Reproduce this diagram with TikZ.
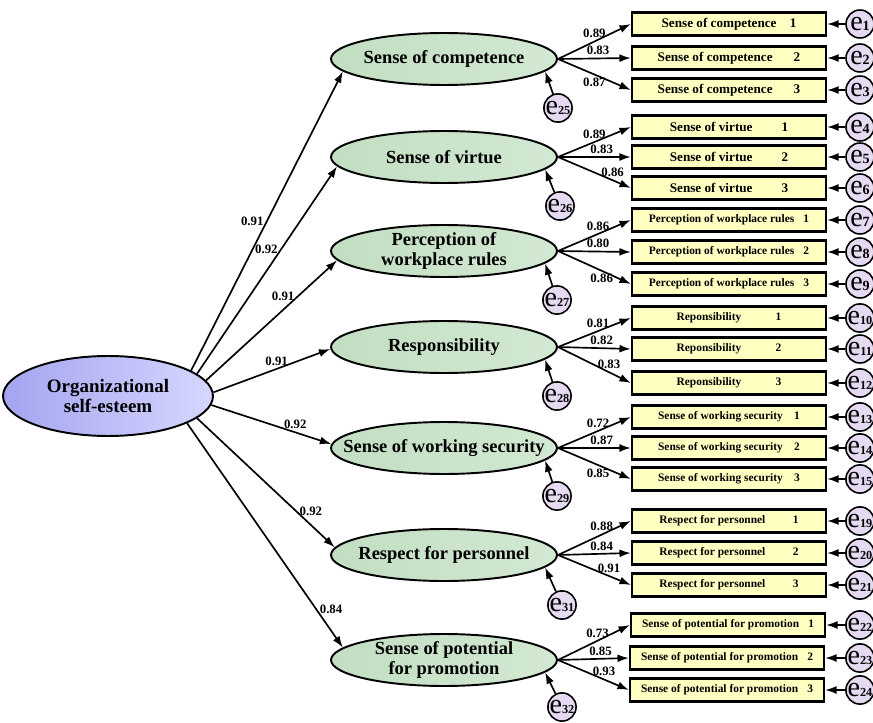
\documentclass[tikz,border=0pt]{standalone}
\usepackage{fontspec}
\setmainfont{Liberation Serif}
\usepackage{xcolor}
\usetikzlibrary{shapes.geometric, arrows.meta, positioning}

\definecolor{mainL}{HTML}{A4A4F0}
\definecolor{mainR}{HTML}{D6D6FF}
\definecolor{latL}{HTML}{C2DEC2}
\definecolor{latR}{HTML}{D2E8D2}
\definecolor{itemfill}{HTML}{FFFFC2}
\definecolor{errfill}{HTML}{E6DAF3}

\begin{document}
\begin{tikzpicture}[x=0.02cm, y=-0.02cm,
            mainvar/.style={ellipse, draw, line width=1.1pt, left color=mainL, right color=mainR, minimum width=4.2cm, minimum height=1.6cm, align=center, font=\fontsize{10.8}{11.5}\selectfont\bfseries},
            latent/.style={ellipse, draw, line width=1.1pt, left color=latL, right color=latR, minimum width=4.52cm, minimum height=1.04cm, inner xsep=-22pt, inner ysep=0pt, align=center, font=\fontsize{10.5}{11.5}\selectfont\bfseries},
            indicator/.style={rectangle, draw, line width=1.3pt, fill=itemfill, minimum width=3.88cm, minimum height=0.46cm, inner sep=0pt, font=\fontsize{6.5}{7}\selectfont\bfseries},
            err/.style={circle, draw, line width=0.9pt, fill=errfill, minimum size=0.56cm, inner sep=0pt, font=\fontsize{16}{16}\selectfont},
            load/.style={-{Latex[length=6.5pt, width=4.5pt]}, line width=0.95pt},
            weight/.style={font=\fontsize{7.3}{8}\selectfont\bfseries, inner sep=1.5pt}
        ]

        \useasboundingbox (0,0) rectangle (873,723);

        % Latent variables
        \node[mainvar] (ose) at (108,396) {Organizational\\self-esteem};
        \node[latent] (comp) at (444,59) {Sense of competence};
        \node[latent] (virt) at (444,157) {Sense of virtue};
        \node[latent, inner ysep=-4pt] (rule) at (444,251) {Perception of\\workplace rules};
        \node[latent] (resp) at (444,347) {Responsibility};
        \node[latent] (secu) at (444,448) {Sense of working security};
        \node[latent] (pers) at (444,555) {Respect for personnel};
        \node[latent, inner ysep=-4pt] (prom) at (444,660) {Sense of potential\\for promotion};

        % Indicators
        \node[indicator, font=\fontsize{7.5}{8}\selectfont\bfseries] (i1) at (729,24) {Sense of competence\hspace{1em}1};
        \node[indicator, font=\fontsize{7.5}{8}\selectfont\bfseries] (i2) at (729,58) {Sense of competence\hspace{1.6em}2};
        \node[indicator, font=\fontsize{7.5}{8}\selectfont\bfseries] (i3) at (729,90) {Sense of competence\hspace{1.6em}3};
        \node[indicator, font=\fontsize{7.5}{8}\selectfont\bfseries] (i4) at (729,127) {Sense of virtue\hspace{2.2em}1};
        \node[indicator, font=\fontsize{7.5}{8}\selectfont\bfseries] (i5) at (729,157) {Sense of virtue\hspace{2.2em}2};
        \node[indicator, font=\fontsize{7.5}{8}\selectfont\bfseries] (i6) at (729,188) {Sense of virtue\hspace{2.2em}3};
        \node[indicator] (i7) at (729,220) {Perception of workplace rules\hspace{0.8em}1};
        \node[indicator] (i8) at (729,252) {Perception of workplace rules\hspace{0.8em}2};
        \node[indicator] (i9) at (729,284) {Perception of workplace rules\hspace{0.8em}3};
        \node[indicator] (i10) at (729,318) {Reponsibility\hspace{3em}1};
        \node[indicator] (i11) at (729,349) {Reponsibility\hspace{3em}2};
        \node[indicator] (i12) at (729,383) {Reponsibility\hspace{3em}3};
        \node[indicator] (i13) at (729,417) {Sense of working security\hspace{1em}1};
        \node[indicator] (i14) at (729,448) {Sense of working security\hspace{1em}2};
        \node[indicator] (i15) at (729,479) {Sense of working security\hspace{1em}3};
        \node[indicator] (i19) at (729,521) {Respect for personnel\hspace{2.4em}1};
        \node[indicator] (i20) at (729,553) {Respect for personnel\hspace{2.4em}2};
        \node[indicator] (i21) at (729,585) {Respect for personnel\hspace{2.4em}3};
        \node[indicator] (i22) at (728,625) {Sense of potential for promotion\hspace{0.8em}1};
        \node[indicator] (i23) at (727,658) {Sense of potential for promotion\hspace{0.8em}2};
        \node[indicator] (i24) at (727,690) {Sense of potential for promotion\hspace{0.8em}3};

        % Error terms of the indicators
        \node[err] (e1) at (860,24) {e{\footnotesize\bfseries 1}};
        \node[err] (e2) at (860,58) {e{\footnotesize\bfseries 2}};
        \node[err] (e3) at (860,90) {e{\footnotesize\bfseries 3}};
        \node[err] (e4) at (860,127) {e{\footnotesize\bfseries 4}};
        \node[err] (e5) at (860,157) {e{\footnotesize\bfseries 5}};
        \node[err] (e6) at (860,188) {e{\footnotesize\bfseries 6}};
        \node[err] (e7) at (860,220) {e{\footnotesize\bfseries 7}};
        \node[err] (e8) at (860,252) {e{\footnotesize\bfseries 8}};
        \node[err] (e9) at (860,284) {e{\footnotesize\bfseries 9}};
        \node[err] (e10) at (860,318) {e{\scriptsize\bfseries 10}};
        \node[err] (e11) at (860,349) {e{\scriptsize\bfseries 11}};
        \node[err] (e12) at (860,383) {e{\scriptsize\bfseries 12}};
        \node[err] (e13) at (860,417) {e{\scriptsize\bfseries 13}};
        \node[err] (e14) at (860,448) {e{\scriptsize\bfseries 14}};
        \node[err] (e15) at (860,479) {e{\scriptsize\bfseries 15}};
        \node[err] (e19) at (860,521) {e{\scriptsize\bfseries 19}};
        \node[err] (e20) at (860,553) {e{\scriptsize\bfseries 20}};
        \node[err] (e21) at (860,585) {e{\scriptsize\bfseries 21}};
        \node[err] (e22) at (860,625) {e{\scriptsize\bfseries 22}};
        \node[err] (e23) at (860,658) {e{\scriptsize\bfseries 23}};
        \node[err] (e24) at (860,690) {e{\scriptsize\bfseries 24}};

        % Error terms of the latent variables
        \node[err] (e25) at (558,108) {e{\scriptsize\bfseries 25}};
        \node[err] (e26) at (560,206) {e{\scriptsize\bfseries 26}};
        \node[err] (e27) at (557,300) {e{\scriptsize\bfseries 27}};
        \node[err] (e28) at (557,396) {e{\scriptsize\bfseries 28}};
        \node[err] (e29) at (557,496) {e{\scriptsize\bfseries 29}};
        \node[err] (e31) at (562,605) {e{\scriptsize\bfseries 31}};
        \node[err] (e32) at (562,707) {e{\scriptsize\bfseries 32}};

        % Second-order loadings
        \draw[load] (ose.17) -- node[weight, pos=0.5, left] {0.91} (comp.187);
        \draw[load] (ose.14) -- node[weight, pos=0.6, left] {0.92} (virt.185);
        \draw[load] (ose.9) -- node[weight, pos=0.7, left] {0.91} (rule.185);
        \draw[load] (ose.2) -- node[weight, pos=0.54, above] {0.91} (resp.181);
        \draw[load] (ose.-5) -- node[weight, pos=0.7, above] {0.92} (secu.178);
        \draw[load] (ose.-14) -- node[weight, pos=0.72, right] {0.92} (pers.176);
        \draw[load] (ose.-19) -- node[weight, pos=0.83, right] {0.84} (prom.173);

        % First-order loadings
        \draw[load] (comp.east) -- node[weight, pos=0.5, above] {0.89} (i1.west);
        \draw[load] (comp.east) -- node[weight, pos=0.55, above] {0.83} (i2.west);
        \draw[load] (comp.east) -- node[weight, pos=0.5, below] {0.87} (i3.west);
        \draw[load] (virt.east) -- node[weight, pos=0.5, above] {0.89} (i4.west);
        \draw[load] (virt.east) -- node[weight, pos=0.6, above] {0.83} (i5.west);
        \draw[load] (virt.east) -- node[weight, pos=0.75, above] {0.86} (i6.west);
        \draw[load] (rule.east) -- node[weight, pos=0.55, above] {0.86} (i7.west);
        \draw[load] (rule.east) -- node[weight, pos=0.55, above] {0.80} (i8.west);
        \draw[load] (rule.east) -- node[weight, pos=0.6, below] {0.86} (i9.west);
        \draw[load] (resp.east) -- node[weight, pos=0.55, above] {0.81} (i10.west);
        \draw[load] (resp.east) -- node[weight, pos=0.6, above] {0.82} (i11.west);
        \draw[load] (resp.east) -- node[weight, pos=0.7, above] {0.83} (i12.west);
        \draw[load] (secu.east) -- node[weight, pos=0.55, above] {0.72} (i13.west);
        \draw[load] (secu.east) -- node[weight, pos=0.6, above] {0.87} (i14.west);
        \draw[load] (secu.east) -- node[weight, pos=0.55, below] {0.85} (i15.west);
        \draw[load] (pers.east) -- node[weight, pos=0.6, above] {0.88} (i19.west);
        \draw[load] (pers.east) -- node[weight, pos=0.6, above] {0.84} (i20.west);
        \draw[load] (pers.east) -- node[weight, pos=0.7, above] {0.91} (i21.west);
        \draw[load] (prom.east) -- node[weight, pos=0.55, above] {0.73} (i22.west);
        \draw[load] (prom.east) -- node[weight, pos=0.6, above] {0.85} (i23.west);
        \draw[load] (prom.east) -- node[weight, pos=0.65, above] {0.93} (i24.west);

        % Residual paths
        \draw[load] (e1) -- (i1);
        \draw[load] (e2) -- (i2);
        \draw[load] (e3) -- (i3);
        \draw[load] (e4) -- (i4);
        \draw[load] (e5) -- (i5);
        \draw[load] (e6) -- (i6);
        \draw[load] (e7) -- (i7);
        \draw[load] (e8) -- (i8);
        \draw[load] (e9) -- (i9);
        \draw[load] (e10) -- (i10);
        \draw[load] (e11) -- (i11);
        \draw[load] (e12) -- (i12);
        \draw[load] (e13) -- (i13);
        \draw[load] (e14) -- (i14);
        \draw[load] (e15) -- (i15);
        \draw[load] (e19) -- (i19);
        \draw[load] (e20) -- (i20);
        \draw[load] (e21) -- (i21);
        \draw[load] (e22) -- (i22);
        \draw[load] (e23) -- (i23);
        \draw[load] (e24) -- (i24);

        \draw[load] (e25) -- (comp.-7);
        \draw[load] (e26) -- (virt.-7);
        \draw[load] (e27) -- (rule.-7);
        \draw[load] (e28) -- (resp.-7);
        \draw[load] (e29) -- (secu.-7);
        \draw[load] (e31) -- (pers.-7);
        \draw[load] (e32) -- (prom.-7);

    \end{tikzpicture}
\end{document}
